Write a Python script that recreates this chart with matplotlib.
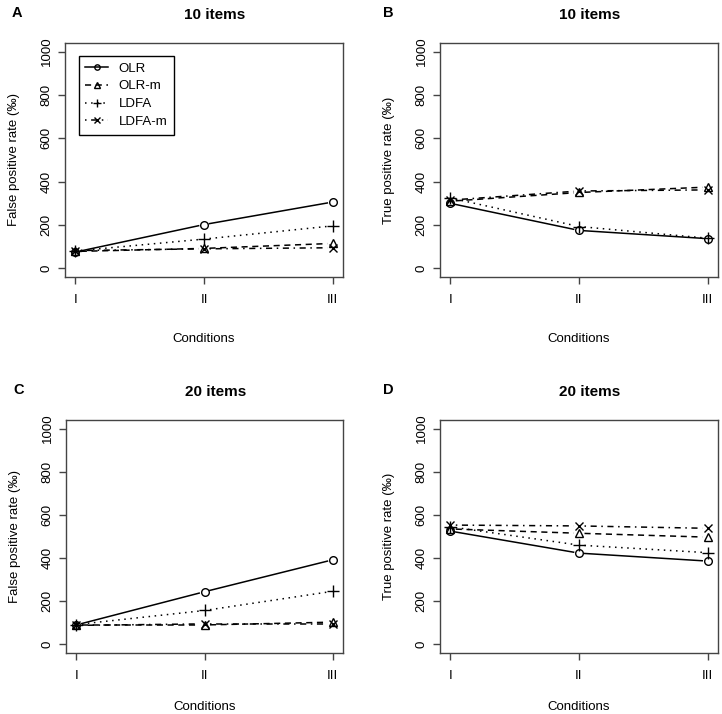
import numpy as np
import matplotlib
matplotlib.use("Agg")
import matplotlib.pyplot as plt
from matplotlib.lines import Line2D

plt.rcParams['font.family'] = ['Liberation Sans', 'DejaVu Sans']

conditions = ["I", "II", "III"]
methods = ["OLR", "OLR-m", "LDFA", "LDFA-m"]

# values in per mille
fpr_10 = {
    "OLR":    [75, 202, 306],
    "OLR-m":  [78, 92, 115],
    "LDFA":   [80, 135, 196],
    "LDFA-m": [82, 90, 95],
}
tpr_10 = {
    "OLR":    [300, 175, 137],
    "OLR-m":  [310, 350, 375],
    "LDFA":   [325, 193, 139],
    "LDFA-m": [315, 357, 362],
}
fpr_20 = {
    "OLR":    [90, 244, 392],
    "OLR-m":  [90, 90, 103],
    "LDFA":   [92, 157, 246],
    "LDFA-m": [88, 95, 95],
}
tpr_20 = {
    "OLR":    [525, 423, 386],
    "OLR-m":  [535, 515, 497],
    "LDFA":   [545, 460, 425],
    "LDFA-m": [553, 549, 538],
}

styles = {
    "OLR":    dict(ls="-",                  marker="o", ms=5.5),
    "OLR-m":  dict(ls=(0, (4, 3)),          marker="^", ms=6),
    "LDFA":   dict(ls=(0, (1, 3)),          marker="+", ms=9),
    "LDFA-m": dict(ls=(0, (1, 3, 4, 3)),    marker="x", ms=6),
}

W, H = 722, 714
fig = plt.figure(figsize=(W / 100, H / 100), dpi=100)

# axes boxes in pixels: left, right, top, bottom ; y of "Conditions"
panels = [
    ("A", "10 items", "False positive rate (‰)", fpr_10, (65, 343, 43, 277), 339, True),
    ("B", "10 items", "True positive rate (‰)", tpr_10, (440, 718, 43, 277), 339, False),
    ("C", "20 items", "False positive rate (‰)", fpr_20, (66, 343, 420, 653), 707, False),
    ("D", "20 items", "True positive rate (‰)", tpr_20, (440, 718, 420, 653), 707, False),
]

box_col = "#444444"
gap = 5.5  # pixels of line removed around each point (R type="b")


def draw_series(ax, x, y, st):
    # line segments shortened in display space, like R type = "b"
    pts = ax.transData.transform(np.column_stack([x, y]))
    inv = ax.transData.inverted()
    for i in range(len(pts) - 1):
        p0, p1 = pts[i], pts[i + 1]
        d = p1 - p0
        L = np.hypot(*d)
        if L <= 2 * gap:
            continue
        u = d / L
        seg = inv.transform(np.array([p0 + u * gap, p1 - u * gap]))
        ax.plot(seg[:, 0], seg[:, 1], color="black", lw=1.1, ls=st["ls"])
    ax.plot(x, y, ls="none", marker=st["marker"], ms=st["ms"], mfc="none",
            mec="black", mew=1.0)


for letter, title, ylab, data, (l, r, t, b), cond_y, show_leg in panels:
    ax = fig.add_axes([l / W, 1 - b / H, (r - l) / W, (b - t) / H])
    ax.set_xlim(0.92, 3.08)
    ax.set_ylim(-40, 1040)
    for sp in ax.spines.values():
        sp.set_color(box_col)
        sp.set_linewidth(1.0)
    ax.set_xticks([1, 2, 3])
    ax.set_xticklabels(conditions)
    ax.set_yticks(np.arange(0, 1001, 200))
    ax.set_yticklabels([str(v) for v in range(0, 1001, 200)], rotation=90, va="center")
    ax.tick_params(length=5, width=1.0, color=box_col, labelsize=9.5)
    ax.tick_params(axis="y", pad=4)
    ax.tick_params(axis="x", pad=7.5)

    x = np.arange(1, 4)
    for m in methods:
        draw_series(ax, x, data[m], styles[m])

    cx = (l + r) / 2
    fig.text(cx / W + 0.015, 1 - (t - 28) / H, title, ha="center", va="center",
             fontsize=11, fontweight="bold")
    fig.text((l - 51) / W, 1 - ((t + b) / 2) / H, ylab, rotation=90,
             ha="center", va="center", fontsize=9.5)
    fig.text(cx / W, 1 - cond_y / H, "Conditions", ha="center", va="center",
             fontsize=9.5)
    fig.text((l - 53 if letter in "AC" else l - 57) / W, 1 - (t - 30) / H, letter,
             ha="left", va="center", fontsize=10.5, fontweight="bold")

    if show_leg:
        handles = [Line2D([], [], color="black", lw=1.1, ls=styles[m]["ls"],
                          marker=styles[m]["marker"], ms=styles[m]["ms"] * 0.7,
                          mfc="none", mec="black") for m in methods]
        ax.legend(handles, methods, loc="upper left", bbox_to_anchor=(0.05, 0.945),
                  borderaxespad=0, fontsize=9.5, frameon=True, fancybox=False,
                  framealpha=1, edgecolor="black", handlelength=1.7,
                  handletextpad=0.8, labelspacing=0.42, borderpad=0.5)

fig.savefig("out.png", dpi=100)
